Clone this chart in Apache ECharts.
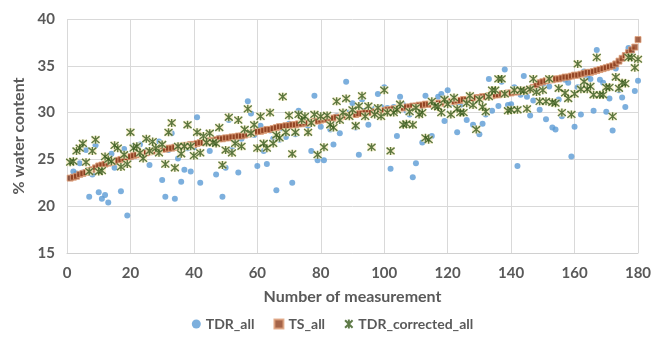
<!DOCTYPE html>
<html>
<head>
<meta charset="utf-8">
<script src="https://cdn.jsdelivr.net/npm/echarts@6/dist/echarts.min.js"></script>
<style>
  html, body { margin: 0; padding: 0; background: #fff; }
  #chart { width: 665px; height: 338px; }
</style>
</head>
<body>
<div id="chart"></div>
<script>
// measurement number runs 1..180, one value per measurement
const tdrAll = [
  23.0, 23.7, 23.5, 24.6, 23.6, 26.0, 21.0, 23.4, 26.5, 21.5,
  20.8, 21.2, 20.4, 25.6, 24.1, 24.9, 21.6, 26.1, 19.0, 25.2,
  26.4, 25.6, 26.6, 25.4, 25.9, 24.4, 26.0, 25.9, 26.9, 22.8,
  21.0, 26.0, 27.8, 20.8, 25.1, 22.6, 23.9, 26.2, 23.7, 26.3,
  29.5, 22.5, 26.8, 27.0, 25.9, 26.9, 23.4, 27.3, 21.0, 24.1,
  29.2, 26.0, 27.0, 23.6, 27.2, 27.7, 31.2, 29.9, 27.6, 24.3,
  28.6, 25.9, 24.5, 28.1, 27.2, 21.7, 27.1, 28.3, 27.4, 28.8,
  22.5, 27.7, 30.2, 28.9, 29.3, 28.6, 25.9, 31.8, 24.9, 28.5,
  24.9, 29.4, 28.2, 26.6, 29.6, 27.8, 29.8, 33.3, 30.0, 31.0,
  28.4, 25.5, 31.4, 30.2, 28.7, 30.1, 30.4, 32.0, 30.6, 32.7,
  30.5, 24.0, 30.6, 27.5, 31.7, 30.8, 30.2, 29.8, 23.1, 24.6,
  30.5, 26.8, 31.8, 27.2, 27.5, 31.0, 31.7, 32.0, 29.1, 32.4,
  31.0, 31.5, 27.9, 30.8, 31.2, 29.2, 31.6, 28.7, 31.3, 27.7,
  28.8, 29.8, 33.6, 30.2, 32.0, 30.7, 33.3, 34.6, 30.8, 30.9,
  32.7, 24.3, 31.9, 33.9, 31.7, 29.7, 31.3, 32.5, 30.3, 33.0,
  29.3, 32.8, 28.4, 28.2, 31.4, 29.6, 33.5, 33.2, 25.3, 28.5,
  32.7, 29.8, 34.4, 33.8, 33.6, 30.2, 36.7, 33.5, 33.2, 30.1,
  31.5, 28.1, 34.7, 32.4, 31.6, 30.6, 36.9, 36.5, 32.3, 33.4
];

const tsAll = [
  23.0, 23.1, 23.2, 23.4, 23.5, 23.6, 23.8, 23.9, 24.1, 24.3,
  24.4, 24.5, 24.6, 24.7, 24.8, 24.9, 25.0, 25.1, 25.2, 25.3,
  25.4, 25.5, 25.5, 25.6, 25.7, 25.8, 25.9, 25.9, 26.0, 26.1,
  26.1, 26.2, 26.2, 26.3, 26.3, 26.4, 26.5, 26.5, 26.6, 26.6,
  26.7, 26.8, 26.8, 26.9, 27.0, 27.0, 27.1, 27.2, 27.2, 27.3,
  27.3, 27.4, 27.4, 27.5, 27.5, 27.6, 27.7, 27.8, 27.9, 28.0,
  28.0, 28.1, 28.2, 28.2, 28.3, 28.4, 28.5, 28.5, 28.6, 28.6,
  28.7, 28.7, 28.8, 28.8, 28.9, 28.9, 29.0, 29.1, 29.1, 29.2,
  29.3, 29.3, 29.4, 29.4, 29.5, 29.5, 29.6, 29.7, 29.7, 29.8,
  29.8, 29.9, 29.9, 30.0, 30.0, 30.0, 30.1, 30.1, 30.2, 30.2,
  30.3, 30.3, 30.4, 30.4, 30.5, 30.5, 30.6, 30.6, 30.7, 30.7,
  30.8, 30.8, 30.9, 30.9, 30.9, 31.0, 31.0, 31.0, 31.1, 31.1,
  31.2, 31.2, 31.3, 31.3, 31.4, 31.4, 31.5, 31.5, 31.6, 31.6,
  31.7, 31.7, 31.8, 31.8, 31.9, 31.9, 32.0, 32.0, 32.1, 32.1,
  32.2, 32.2, 32.3, 32.3, 32.4, 32.5, 32.7, 33.0, 33.2, 33.3,
  33.4, 33.5, 33.5, 33.6, 33.6, 33.7, 33.8, 33.8, 33.9, 34.0,
  34.0, 34.1, 34.2, 34.3, 34.3, 34.4, 34.5, 34.6, 34.7, 34.8,
  34.9, 35.0, 35.2, 35.5, 35.8, 36.1, 36.4, 36.7, 37.0, 37.8
];

const tdrCorrected = [
  24.7, 24.8, 25.9, 26.2, 26.7, 24.7, 23.7, 25.9, 27.1, 23.7,
  23.8, 25.3, 25.0, 24.8, 26.5, 26.2, 24.2, 25.5, 24.5, 27.9,
  26.2, 26.4, 25.7, 25.1, 27.2, 25.9, 26.9, 26.2, 25.7, 26.6,
  24.5, 27.9, 28.9, 24.1, 26.4, 25.6, 26.4, 28.7, 26.4, 25.4,
  27.9, 25.7, 27.5, 26.8, 27.8, 26.8, 26.7, 28.4, 24.4, 26.0,
  29.5, 25.7, 26.7, 29.2, 26.4, 28.2, 30.4, 27.8, 28.7, 26.2,
  29.6, 26.7, 26.2, 30.0, 26.7, 27.6, 27.3, 31.7, 27.9, 29.7,
  25.6, 27.9, 29.8, 29.2, 29.6, 27.9, 28.9, 29.8, 25.5, 29.6,
  26.3, 29.7, 28.7, 28.4, 31.2, 29.2, 30.0, 31.5, 29.6, 30.3,
  28.6, 30.7, 31.8, 29.6, 30.7, 26.3, 29.8, 30.5, 29.6, 32.4,
  30.0, 25.9, 30.0, 30.3, 30.9, 28.7, 28.8, 30.1, 28.7, 30.5,
  29.8, 30.0, 27.3, 27.1, 31.2, 30.7, 30.6, 30.0, 31.4, 30.9,
  29.8, 31.6, 30.4, 30.0, 30.0, 31.0, 31.8, 30.8, 28.2, 31.4,
  30.6, 30.1, 31.7, 32.4, 32.4, 33.6, 33.6, 32.0, 30.2, 30.3,
  32.4, 30.3, 32.4, 32.3, 30.4, 32.5, 33.6, 32.2, 31.2, 32.4,
  31.2, 33.6, 31.1, 31.0, 32.6, 30.0, 32.1, 31.5, 29.8, 32.0,
  35.2, 32.5, 33.3, 32.5, 32.8, 31.9, 35.9, 31.9, 31.9, 32.7,
  32.7, 29.6, 33.8, 32.6, 33.2, 33.1, 35.9, 35.9, 34.8, 35.7
];

const xTicks = [0, 20, 40, 60, 80, 100, 120, 140, 160, 180];
const yTicks = [15, 20, 25, 30, 35, 40];

function toPoints(values) {
    let list = [];
    for (let i = 0; i < values.length; i++) {
        list.push([i + 1, values[i]]);
    }
    return list;
}

// excel-like star marker: an X with a vertical stroke
const starPath = 'path://M0,0L10,10M10,0L0,10M5,-1L5,11';
const labelFont = 'Lato, "Open Sans", sans-serif';
const grey = '#595959';

let chart = echarts.init(document.getElementById('chart'), null, {renderer: 'canvas'});
chart.setOption({
    animation: false,
    textStyle: {fontFamily: labelFont},
    grid: {
        left: 67,
        right: 27,
        top: 19,
        bottom: 85
    },
    legend: {
        bottom: 2,
        left: 'center',
        itemGap: 19,
        itemWidth: 9,
        itemHeight: 9,
        textStyle: {color: grey, fontSize: 14, fontWeight: 'bold', fontFamily: labelFont},
        data: [
            {name: 'TDR_all', icon: 'circle', itemStyle: {color: '#5B9BD5'}},
            {name: 'TS_all', icon: 'rect'},
            {name: 'TDR_corrected_all', icon: starPath}
        ]
    },
    xAxis: {
        type: 'value',
        min: xTicks[0],
        max: xTicks[xTicks.length - 1],
        interval: 20,
        name: 'Number of measurement',
        nameLocation: 'middle',
        nameGap: 36,
        nameTextStyle: {color: grey, fontSize: 16, fontWeight: 'bold'},
        axisLine: {show: true, lineStyle: {color: '#D0D0D0'}},
        axisTick: {show: false},
        axisLabel: {color: grey, fontSize: 15, fontWeight: 'bold', margin: 13},
        splitLine: {show: true, lineStyle: {color: '#D9D9D9'}}
    },
    yAxis: {
        type: 'value',
        min: yTicks[0],
        max: yTicks[yTicks.length - 1],
        interval: 5,
        name: '% water content',
        nameLocation: 'middle',
        nameGap: 40,
        nameTextStyle: {color: grey, fontSize: 16, fontWeight: 'bold'},
        axisLine: {show: false},
        axisTick: {show: false},
        axisLabel: {color: grey, fontSize: 15, fontWeight: 'bold', margin: 12},
        splitLine: {show: true, lineStyle: {color: '#D9D9D9'}}
    },
    series: [
        {
            name: 'TDR_all',
            type: 'scatter',
            symbol: 'circle',
            symbolSize: 6,
            itemStyle: {color: '#5B9BD5'},
            data: toPoints(tdrAll),
            z: 2
        },
        {
            name: 'TS_all',
            type: 'scatter',
            symbol: 'rect',
            symbolSize: 6,
            itemStyle: {color: '#8E3D1B', borderColor: '#DFA07A', borderWidth: 1},
            data: toPoints(tsAll),
            z: 3
        },
        {
            // pale backdrop behind the star markers
            name: 'TDR_corrected_bg',
            type: 'scatter',
            symbol: 'rect',
            symbolSize: 8,
            itemStyle: {color: '#F8EDC4'},
            data: toPoints(tdrCorrected),
            z: 4
        },
        {
            name: 'TDR_corrected_all',
            type: 'scatter',
            symbol: starPath,
            symbolSize: 8,
            itemStyle: {color: 'rgba(0,0,0,0)', borderColor: '#375A1C', borderWidth: 1.4},
            data: toPoints(tdrCorrected),
            z: 5
        }
    ]
});
</script>
</body>
</html>
